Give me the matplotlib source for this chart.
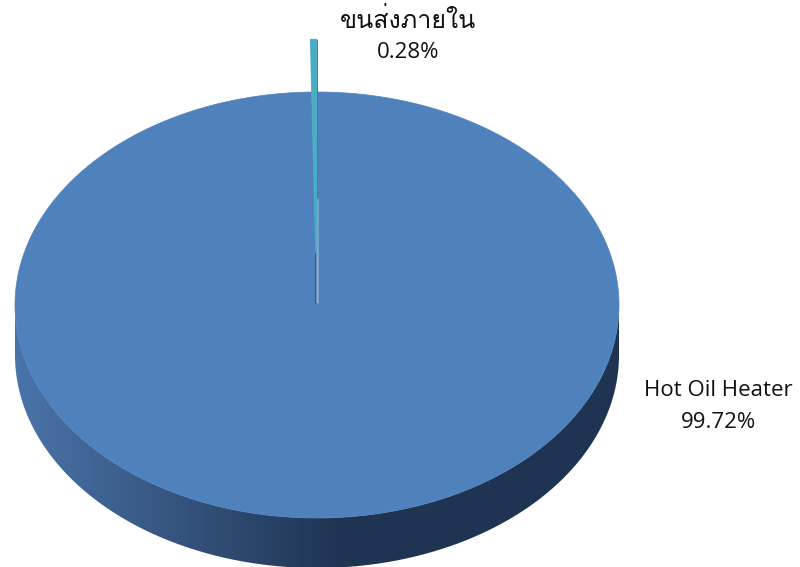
import numpy as np
import matplotlib
matplotlib.use("Agg")
import matplotlib.pyplot as plt
from matplotlib.patches import Polygon
from matplotlib import font_manager
from matplotlib.ft2font import FT2Font

# Data
categories = ["Hot Oil Heater", "ขนส่งภายใน"]
shares = [99.72, 0.28]
explode = [0.0, 0.244]
top_colors = ["#4f81bd", "#4bacc6"]


def thai_font_props(size):
    """Return FontProperties for an installed upright regular font covering Thai."""
    regular, other = [], []
    for path in sorted(font_manager.findSystemFonts()):
        try:
            ft = FT2Font(path)
            if 0x0E02 not in ft.get_charmap():
                continue
            style = (ft.style_name or "").lower()
            if style in ("regular", "book", "normal", "roman"):
                regular.append(path)
            else:
                other.append(path)
        except Exception:
            continue
    pick = (regular or other or [None])[0]
    if pick is None:
        return font_manager.FontProperties(family=["Noto Sans", "DejaVu Sans"], size=size)
    return font_manager.FontProperties(fname=pick, size=size)


W, H = 800, 567
fig = plt.figure(figsize=(W / 100, H / 100), dpi=100)
ax = fig.add_axes([0, 0, 1, 1])
ax.set_xlim(0, W)
ax.set_ylim(H, 0)
ax.axis("off")

# Pie geometry (pixel units of the canvas)
cx, cy = 317, 305
ra, rb = 302, 213
depth = 50


def pt(theta_deg, r=1.0, ox=0.0, oy=0.0, dz=0.0):
    t = np.radians(theta_deg)
    return (cx + ox + r * ra * np.cos(t), cy + oy - r * rb * np.sin(t) + dz)


total = float(sum(shares))
spans = [v / total * 360.0 for v in shares]
starts = []
a = 90.0
for s in spans:
    starts.append(a)
    a -= s

# Front side wall of the large slice with a horizontal shading gradient
arc = np.linspace(180, 360, 300)
top_edge = [pt(t) for t in arc]
bot_edge = [pt(t, dz=depth) for t in arc[::-1]]
wall = Polygon(top_edge + bot_edge, closed=True, facecolor="none", edgecolor="none")
ax.add_patch(wall)
gx = np.linspace(0, W, 800)
c_left = np.array([74, 116, 170]) / 255
c_dark = np.array([31, 52, 82]) / 255
f = np.clip((gx - 15) / (340 - 15), 0, 1)[:, None]
grad = (c_left * (1 - f) + c_dark * f)[None, :, :]
im = ax.imshow(grad, extent=[0, W, cy + rb + depth + 5, cy - 5], aspect="auto",
               interpolation="bilinear", zorder=1)
im.set_clip_path(wall)

# Top faces
for i, (st, sp) in enumerate(zip(starts, spans)):
    mid = np.radians(st - sp / 2)
    ox = explode[i] * ra * np.cos(mid)
    oy = -explode[i] * rb * np.sin(mid)
    thetas = np.linspace(st, st - sp, max(int(abs(sp) * 2), 3))
    c0 = (cx + ox, cy + oy)
    if explode[i] > 0:
        # radial cut faces of the exploded slice
        edge = st - sp
        p_top = pt(edge, ox=ox, oy=oy)
        face = [c0, p_top, (p_top[0], p_top[1] + depth), (c0[0], c0[1] + depth)]
        ax.add_patch(Polygon(face, closed=True, facecolor="#2e5f7a",
                             edgecolor="#2e5f7a", lw=1.8, zorder=3))
        ax.plot([c0[0] + 0.3, c0[0] + 0.3], [c0[1] - 55, c0[1] + depth],
                color="#86a9d6", lw=1.8, zorder=3.5, solid_capstyle="butt")
    poly = [c0] + [pt(t, ox=ox, oy=oy) for t in thetas]
    ax.add_patch(Polygon(poly, closed=True, facecolor=top_colors[i],
                         edgecolor=top_colors[i], lw=1.6 if i else 0.5,
                         zorder=2 + 2 * i))

# Labels
fs = 16
lab_family = ["Open Sans", "DejaVu Sans"]
ax.text(718, 390, categories[0], ha="center", va="center", fontsize=fs,
        family=lab_family, color="#111111")
ax.text(718, 423, f"{shares[0]:.2f}%", ha="center", va="center", fontsize=fs,
        family=lab_family, color="#111111")
ax.text(408, 21, categories[1], ha="center", va="center",
        fontproperties=thai_font_props(18), color="#111111")
ax.text(408, 53, f"{shares[1]:.2f}%", ha="center", va="center", fontsize=fs,
        family=lab_family, color="#111111")

fig.savefig("out.png", dpi=100, facecolor="white")
